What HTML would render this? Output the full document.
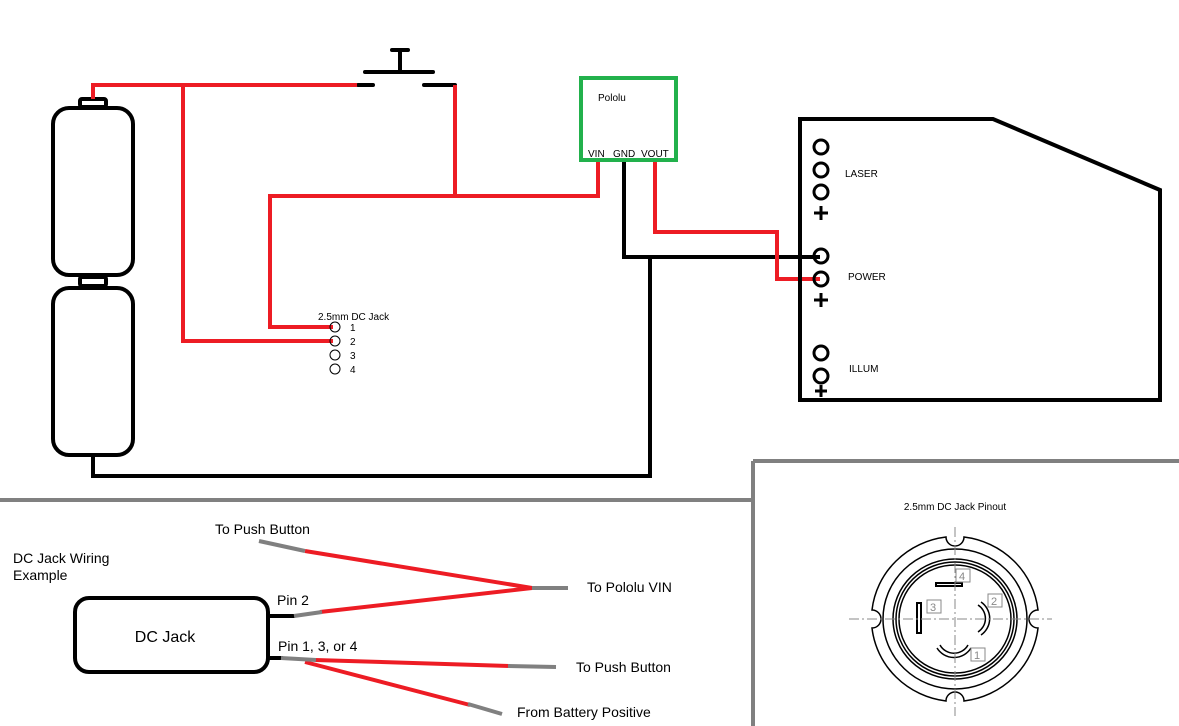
<!DOCTYPE html>
<html><head><meta charset="utf-8"><style>html,body{margin:0;padding:0;background:#fff}svg{display:block}</style></head>
<body>
<svg width="1179" height="726" viewBox="0 0 1179 726" xmlns="http://www.w3.org/2000/svg" font-family="Liberation Sans, sans-serif">
<rect width="1179" height="726" fill="#fff"/>
<g fill="none" stroke="#000" stroke-width="4">
<rect x="80" y="99" width="26" height="8" rx="2"/>
<rect x="53" y="108" width="80" height="167" rx="16"/>
<rect x="80" y="277" width="26" height="9" rx="2"/>
<rect x="53" y="288" width="80" height="167" rx="16"/>
</g>
<g fill="none" stroke="#000" stroke-width="4">
<polyline points="93,456 93,476 650,476 650,257"/>
<polyline points="624,160 624,257 820,257"/>
<line x1="358" y1="85" x2="373" y2="85" stroke-linecap="round"/>
<line x1="424" y1="85" x2="455" y2="85" stroke-linecap="round"/>
<line x1="365" y1="72" x2="433" y2="72" stroke-linecap="round"/>
<line x1="400" y1="50" x2="400" y2="72"/>
<line x1="392" y1="50" x2="408" y2="50" stroke-linecap="round"/>
</g>
<g fill="none" stroke="#ed1c24" stroke-width="4">
<polyline points="93,99 93,85 357,85"/>
<polyline points="183,85 183,341 333,341"/>
<polyline points="455,85 455,196"/>
<polyline points="598,160 598,196 270,196 270,327 333,327"/>
<polyline points="655,160 655,232 777,232 777,279 820,279"/>
</g>
<rect x="581" y="78" width="95" height="82" fill="none" stroke="#22b14c" stroke-width="4"/>
<text x="598" y="101" font-size="10">Pololu</text>
<g font-size="10"><text x="588" y="157">VIN</text><text x="613" y="157">GND</text><text x="641" y="157">VOUT</text></g>
<text x="318" y="320" font-size="10">2.5mm DC Jack</text>
<g fill="none" stroke="#000" stroke-width="1">
<circle cx="335" cy="327" r="5"/><circle cx="335" cy="341" r="5"/><circle cx="335" cy="355" r="5"/><circle cx="335" cy="369" r="5"/>
</g>
<g font-size="10"><text x="350" y="331">1</text><text x="350" y="345">2</text><text x="350" y="359">3</text><text x="350" y="373">4</text></g>
<polygon points="800,119 993,119 1160,190 1160,400 800,400" fill="none" stroke="#000" stroke-width="4"/>
<g fill="none" stroke="#000" stroke-width="3">
<circle cx="821" cy="147" r="7"/><circle cx="821" cy="170" r="7"/><circle cx="821" cy="192" r="7"/>
<path d="M814 213h14M821 206v14"/>
<circle cx="821" cy="256" r="7"/><circle cx="821" cy="279" r="7"/>
<path d="M814 300h14M821 293v14"/>
<circle cx="821" cy="353" r="7"/><circle cx="821" cy="376" r="7"/>
<path d="M815 391h12M821 385v12"/>
</g>
<g font-size="10"><text x="845" y="177">LASER</text><text x="848" y="280">POWER</text><text x="849" y="372">ILLUM</text></g>
<g stroke="#808080" stroke-width="4">
<line x1="0" y1="500" x2="753" y2="500"/>
<line x1="753" y1="461" x2="753" y2="726"/>
<line x1="753" y1="461" x2="1179" y2="461"/>
</g>
<text x="13" y="563" font-size="14">DC Jack Wiring</text>
<text x="13" y="580" font-size="14">Example</text>
<rect x="75" y="598" width="193" height="74" rx="14" fill="none" stroke="#000" stroke-width="4"/>
<text x="165" y="642" font-size="16" text-anchor="middle">DC Jack</text>
<g stroke="#000" stroke-width="4"><line x1="268" y1="616" x2="295" y2="616"/><line x1="268" y1="658" x2="283" y2="658"/></g>
<g stroke="#ed1c24" stroke-width="4" fill="none">
<line x1="305" y1="551" x2="532" y2="588"/>
<line x1="320" y1="612" x2="532" y2="588"/>
<line x1="315" y1="660" x2="510" y2="666"/>
<line x1="305" y1="662" x2="470" y2="705"/>
</g>
<g stroke="#808080" stroke-width="4" fill="none">
<line x1="259" y1="541" x2="305" y2="551"/>
<line x1="294" y1="616" x2="322" y2="612"/>
<line x1="532" y1="588" x2="568" y2="588"/>
<line x1="281" y1="658" x2="316" y2="660"/>
<line x1="508" y1="666" x2="556" y2="667"/>
<line x1="468" y1="704" x2="502" y2="714"/>
</g>
<g font-size="14">
<text x="215" y="534">To Push Button</text>
<text x="277" y="605">Pin 2</text>
<text x="278" y="651">Pin 1, 3, or 4</text>
<text x="587" y="592">To Pololu VIN</text>
<text x="576" y="672">To Push Button</text>
<text x="517" y="717">From Battery Positive</text>
</g>
<text x="955" y="510" font-size="10" text-anchor="middle">2.5mm DC Jack Pinout</text>
<g fill="none" stroke="#000" stroke-width="1.5">
<path d="M946,537 A85,83 0 0 0 872,610 A9,9 0 0 1 872,628 A85,83 0 0 0 946,701 A9,9 0 0 1 964,701 A85,83 0 0 0 1038,628 A9,9 0 0 1 1038,610 A85,83 0 0 0 964,537 A9,9 0 0 1 946,537 Z"/>
<ellipse cx="955" cy="619" rx="72" ry="70"/>
<ellipse cx="955" cy="619" rx="62" ry="60"/>
<ellipse cx="955" cy="619" rx="59" ry="57"/>
<ellipse cx="955" cy="619" rx="56" ry="54"/>
<rect x="936" y="583" width="26" height="3" stroke-width="2"/>
<rect x="917" y="603" width="4" height="30" stroke-width="2"/>
<path d="M978,605 A16,16 0 0 1 978,632 M981,602 A20,20 0 0 1 981,635"/>
<path d="M940,645 A16,16 0 0 0 968,645 M937,648 A20,20 0 0 0 971,648"/>
</g>
<g fill="none" stroke="#888" stroke-width="1">
<rect x="956" y="569" width="14" height="13"/>
<rect x="927" y="600" width="14" height="13"/>
<rect x="988" y="594" width="14" height="13"/>
<rect x="971" y="648" width="14" height="13"/>
<line x1="849" y1="619" x2="1052" y2="619" stroke-dasharray="10,3,2,3"/>
<line x1="955" y1="527" x2="955" y2="716" stroke-dasharray="10,3,2,3"/>
</g>
<g font-size="11" fill="#888"><text x="959" y="580">4</text><text x="930" y="611">3</text><text x="991" y="605">2</text><text x="974" y="659">1</text></g>
</svg>
</body></html>
